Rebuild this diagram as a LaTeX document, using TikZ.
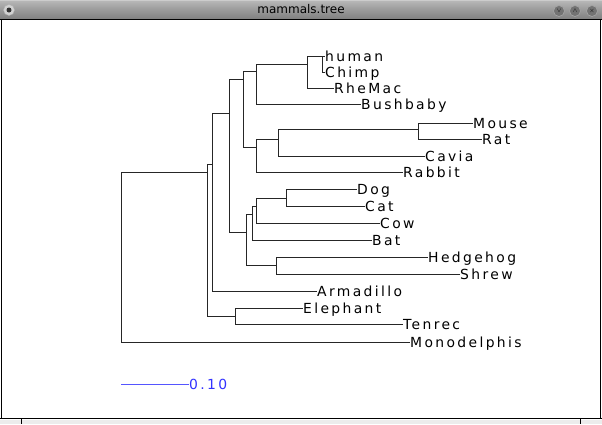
\documentclass[tikz,border=0pt]{standalone}
\usepackage{fontspec}
\newfontfamily\labfont[LetterSpace=17]{DejaVu Sans}
\newfontfamily\titlefont{DejaVu Sans}
\usetikzlibrary{shadings}
\definecolor{scaleblue}{RGB}{85,85,255}
\definecolor{scaletext}{RGB}{50,50,255}
\definecolor{bartop}{RGB}{185,185,185}
\definecolor{barmid}{RGB}{155,155,155}
\definecolor{barbot}{RGB}{130,130,130}
\tikzset{
  leaf/.style={anchor=west, inner sep=0pt, font=\labfont\fontsize{13.9}{14}\selectfont, text height=10pt, text depth=0pt},
  branch/.style={draw=black!85, line width=0.9pt},
  btn/.style={circle, minimum size=11pt, inner sep=0pt, fill=black!55, draw=black!35, line width=0.6pt, font=\titlefont\bfseries\fontsize{6}{6}\selectfont}
}
\begin{document}
\begin{tikzpicture}[x=1pt,y=-1pt]
\useasboundingbox (0,0) rectangle (602,424);
% window frame
\fill[white] (0,0) rectangle (602,424);
\shade[top color=bartop, bottom color=barbot, middle color=barmid] (0,0) rectangle (602,18.5);
\fill[black!20] (0,0) rectangle (602,1.2);
\draw[black, line width=1pt] (0,19) -- (602,19);
\draw[black, line width=1pt] (1,19) -- (1,418.5);
\draw[black, line width=1pt] (600.5,19) -- (600.5,418.5);
\draw[black, line width=1pt] (0,418.5) -- (602,418.5);
\fill[gray!15] (0,419.5) rectangle (602,424);
\draw[black, line width=0.6pt] (21,419) -- (21,424) (580,419) -- (580,424);
\node[font=\titlefont\fontsize{12}{12}\selectfont, inner sep=0pt] (title) at (301,9.5) {mammals.tree};
\node[circle, minimum size=11pt, inner sep=0pt, fill=gray!35, draw=gray!60] (menu) at (9,10) {};
\fill[black!80] (menu.center) circle (2.5pt);
\node[btn] (bmin) at (559,11) {$\vee$};
\node[btn] (bmax) at (575,11) {$\wedge$};
\node[btn] (bclose) at (592,11) {$\times$};
% internal nodes
\coordinate (root) at (121,189);
\coordinate (euth) at (207,172);
\coordinate (afro) at (235,316);
\coordinate (bx) at (212,164);
\coordinate (boreo) at (229,113);
\coordinate (euarch) at (243,79);
\coordinate (prim) at (256,71);
\coordinate (hcr) at (307,64);
\coordinate (hc) at (322,56);
\coordinate (glires) at (256,147);
\coordinate (rod) at (278,139);
\coordinate (mr) at (418,129);
\coordinate (laur) at (246,232);
\coordinate (lin) at (252,214);
\coordinate (cc) at (256,206);
\coordinate (dc) at (286,198);
\coordinate (eul) at (276,265);
% leaves
\node[leaf] (human) at (325,56) {human};
\node[leaf] (chimp) at (325,72) {Chimp};
\node[leaf] (rhemac) at (334,88) {RheMac};
\node[leaf] (bushbaby) at (361,104) {Bushbaby};
\node[leaf] (mouse) at (473,123) {Mouse};
\node[leaf] (rat) at (482,139) {Rat};
\node[leaf] (cavia) at (425,156) {Cavia};
\node[leaf] (rabbit) at (403,172) {Rabbit};
\node[leaf] (dog) at (357,189) {Dog};
\node[leaf] (cat) at (365,206) {Cat};
\node[leaf] (cow) at (380,223) {Cow};
\node[leaf] (bat) at (372,240) {Bat};
\node[leaf] (hedgehog) at (428,257) {Hedgehog};
\node[leaf] (shrew) at (460,274) {Shrew};
\node[leaf] (armadillo) at (317,291) {Armadillo};
\node[leaf] (elephant) at (303,308) {Elephant};
\node[leaf] (tenrec) at (403,324) {Tenrec};
\node[leaf] (monodelphis) at (410,342) {Monodelphis};
% branches
\draw[branch] (root) |- (euth);
\draw[branch] (root) |- (monodelphis.west);
\draw[branch] (euth) |- (bx);
\draw[branch] (euth) |- (afro);
\draw[branch] (afro) |- (elephant.west);
\draw[branch] (afro) |- (tenrec.west);
\draw[branch] (bx) |- (boreo);
\draw[branch] (bx) |- (armadillo.west);
\draw[branch] (boreo) |- (euarch);
\draw[branch] (boreo) |- (laur);
\draw[branch] (euarch) |- (prim);
\draw[branch] (euarch) |- (glires);
\draw[branch] (prim) |- (hcr);
\draw[branch] (prim) |- (bushbaby.west);
\draw[branch] (hcr) |- (hc);
\draw[branch] (hcr) |- (rhemac.west);
\draw[branch] (hc) |- (human.west);
\draw[branch] (hc) |- (chimp.west);
\draw[branch] (glires) |- (rod);
\draw[branch] (glires) |- (rabbit.west);
\draw[branch] (rod) |- (mr);
\draw[branch] (rod) |- (cavia.west);
\draw[branch] (mr) |- (mouse.west);
\draw[branch] (mr) |- (rat.west);
\draw[branch] (laur) |- (lin);
\draw[branch] (laur) |- (eul);
\draw[branch] (lin) |- (cc);
\draw[branch] (lin) |- (bat.west);
\draw[branch] (cc) |- (dc);
\draw[branch] (cc) |- (cow.west);
\draw[branch] (dc) |- (dog.west);
\draw[branch] (dc) |- (cat.west);
\draw[branch] (eul) |- (hedgehog.west);
\draw[branch] (eul) |- (shrew.west);
% scale bar
\coordinate (sbstart) at (121,384);
\node[leaf, text=scaletext] (sblabel) at (189,384) {0.10};
\draw[scaleblue, line width=1pt] (sbstart) -- (sblabel.west);
\end{tikzpicture}
\end{document}
